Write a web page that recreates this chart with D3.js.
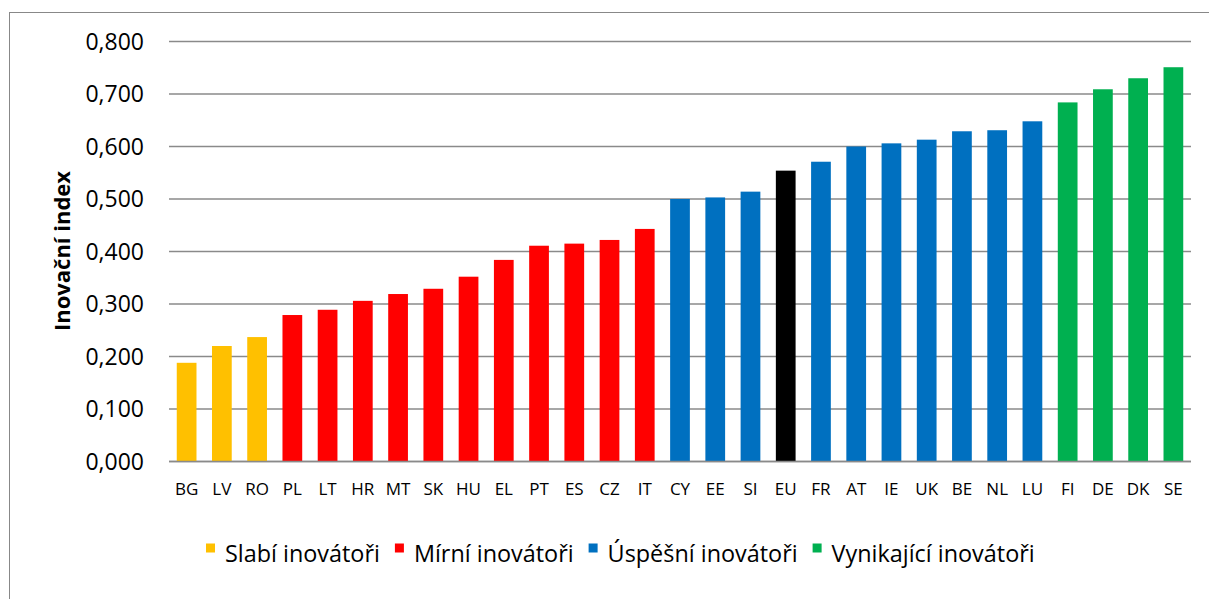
<!DOCTYPE html>
<html>
<head>
<meta charset="utf-8">
<script src="https://cdn.jsdelivr.net/npm/d3@7"></script>
<style>
  body { margin: 0; background: #fff; }
  svg { display: block; }
  text { font-family: "Open Sans", "Noto Sans", sans-serif; fill: #000; }
</style>
</head>
<body>
<div id="chart"></div>
<script>
// country codes, in the order of the bars
var countries = ["BG","LV","RO","PL","LT","HR","MT","SK","HU","EL","PT","ES","CZ","IT",
                 "CY","EE","SI","EU","FR","AT","IE","UK","BE","NL","LU","FI","DE","DK","SE"];
// innovation index
var values = [0.188,0.220,0.237,0.279,0.289,0.306,0.319,0.329,0.352,0.384,0.411,0.415,0.422,0.443,
              0.500,0.503,0.514,0.554,0.571,0.600,0.606,0.613,0.629,0.631,0.648,0.684,0.709,0.730,0.751];
// group of every bar (-1 = EU average)
var groups = [0,0,0,1,1,1,1,1,1,1,1,1,1,1,
              2,2,2,-1,2,2,2,2,2,2,2,3,3,3,3];
var groupNames = ["Slabí inovátoři","Mírní inovátoři","Úspěšní inovátoři","Vynikající inovátoři"];
var groupColors = ["#FFC000","#FF0000","#0070C0","#00B050"];
var yTicks = [0,0.1,0.2,0.3,0.4,0.5,0.6,0.7,0.8];

var w = 1209, h = 599;

var svg = d3.select("#chart").append("svg")
    .attr("width", w)
    .attr("height", h);

// chart border
svg.append("rect")
    .attr("x", 9.5).attr("y", 12.5)
    .attr("width", w + 20).attr("height", h + 20)
    .style("fill", "none")
    .style("stroke", "#888")
    .style("stroke-width", 1);

var x = d3.scaleBand()
    .domain(countries)
    .range([169, 1191])
    .paddingInner(0.44)
    .paddingOuter(0.22);

var y = d3.scaleLinear()
    .domain([0, 0.8])
    .range([461.5, 41.5]);

// gridlines
svg.selectAll(".grid")
    .data(yTicks)
    .enter().append("line")
    .attr("class", "grid")
    .attr("x1", 169).attr("x2", 1191)
    .attr("y1", function(d) { return y(d); })
    .attr("y2", function(d) { return y(d); })
    .style("stroke", "#8a8a8a")
    .style("stroke-width", 1.6);

// y tick labels
svg.selectAll(".ytick")
    .data(yTicks)
    .enter().append("text")
    .attr("class", "ytick")
    .attr("x", 144)
    .attr("y", function(d) { return y(d); })
    .attr("dy", "0.36em")
    .style("text-anchor", "end")
    .style("font-size", "23px")
    .text(function(d) { return d3.format(".3f")(d).replace(".", ","); });

// bars
svg.selectAll(".bar")
    .data(values)
    .enter().append("rect")
    .attr("class", "bar")
    .attr("x", function(d, i) { return x(countries[i]); })
    .attr("width", x.bandwidth())
    .attr("y", function(d) { return y(d); })
    .attr("height", function(d) { return y(0) - y(d); })
    .style("fill", function(d, i) { return groups[i] < 0 ? "#000" : groupColors[groups[i]]; });

// baseline drawn over bars
svg.append("line")
    .attr("x1", 169).attr("x2", 1191)
    .attr("y1", y(0)).attr("y2", y(0))
    .style("stroke", "#8a8a8a")
    .style("stroke-width", 1.6);

// category labels
svg.selectAll(".xlab")
    .data(countries)
    .enter().append("text")
    .attr("class", "xlab")
    .attr("x", function(d) { return x(d) + x.bandwidth() / 2; })
    .attr("y", 495)
    .style("text-anchor", "middle")
    .style("font-size", "17px")
    .text(function(d) { return d; });

// y axis title
svg.append("text")
    .attr("transform", "translate(70,251) rotate(-90)")
    .style("text-anchor", "middle")
    .style("font-size", "22px")
    .style("font-weight", "bold")
    .text("Inovační index");

// legend
var lx = 206;
groupNames.forEach(function(name, i) {
    svg.append("rect")
        .attr("x", lx).attr("y", 543.5)
        .attr("width", 9).attr("height", 9)
        .style("fill", groupColors[i]);
    var t = svg.append("text")
        .attr("x", lx + 19)
        .attr("y", 561.5)
        .style("font-size", "23.4px")
        .text(name);
    lx += 19 + t.node().getComputedTextLength() + 15;
});
</script>
</body>
</html>
